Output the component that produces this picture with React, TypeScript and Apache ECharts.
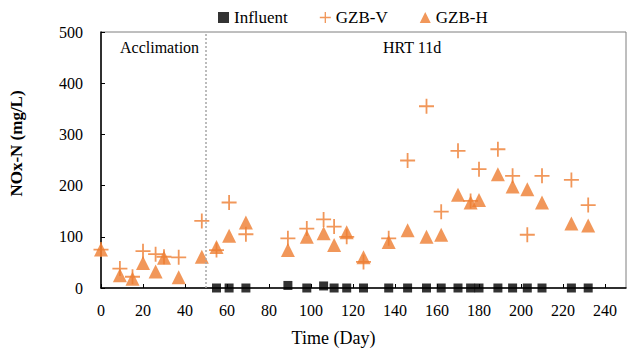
import React, { useEffect, useRef } from "react";
import * as echarts from "echarts";

const days = [0, 9, 15, 20, 26, 30, 37, 48, 55, 61, 69, 89, 98, 106, 111, 117, 125, 137, 146, 155, 162, 170, 176, 180, 189, 196, 203, 210, 224, 232];
const gzbV = [75, 38, 22, 72, 66, 61, 60, 131, 74, 167, 105, 97, 116, 134, 120, 100, 51, 97, 249, 355, 149, 268, 170, 232, 271, 219, 104, 219, 211, 162];
const gzbH = [75, 25, 18, 49, 32, 59, 21, 61, 80, 102, 128, 74, 100, 107, 84, 109, 60, 90, 113, 100, 104, 182, 167, 172, 222, 198, 193, 167, 126, 122];
const influentDays = [55, 61, 69, 89, 98, 106, 111, 117, 125, 137, 146, 155, 162, 170, 176, 180, 189, 196, 203, 210, 224, 232];
const influent = [0, 0, 0, 5, 0, 4, 0, 0, 0, 0, 0, 0, 0, 0, 0, 0, 0, 0, 0, 0, 0, 0];
const phaseBoundary = 50;
const phaseLabels = ["Acclimation", "HRT 11d"];

const ORANGE = "#ED7D31";
const FONT = "Liberation Serif";
const PLUS = "path://M4.4,0h1.2v4.4h4.4v1.2h-4.4v4.4h-1.2v-4.4h-4.4v-1.2h4.4z";

export default function App() {
  const ref = useRef<HTMLDivElement>(null);
  useEffect(() => {
    const chart = echarts.init(ref.current!, null, { renderer: "svg" });
    chart.setOption({
      animation: false,
      backgroundColor: "#fff",
      textStyle: { fontFamily: FONT },
      grid: { left: 101, right: 18, top: 32, bottom: 63, show: true, borderColor: "#7f7f7f", borderWidth: 1, outerBoundsMode: "none", containLabel: false },
      legend: {
        top: 4,
        left: 213,
        itemGap: 32,
        itemWidth: 11,
        itemHeight: 11,
        textStyle: { fontFamily: FONT, fontSize: 17, color: "#000" },
        data: [
          { name: "Influent", icon: "rect" },
          { name: "GZB-V", icon: PLUS },
          { name: "GZB-H", icon: "triangle" },
        ],
      },
      xAxis: {
        type: "value",
        min: 0,
        max: 250,
        interval: 20,
        name: "Time (Day)",
        nameLocation: "middle",
        nameGap: 41,
        nameTextStyle: { fontFamily: FONT, fontSize: 18, color: "#000", padding: [0, 60, 0, 0] },
        axisLine: { show: true, lineStyle: { color: "#000", width: 1.5 } },
        axisTick: { show: true, inside: true, length: 4, lineStyle: { color: "#000" } },
        axisLabel: { fontFamily: FONT, fontSize: 16, color: "#000", margin: 14, showMaxLabel: false },
        splitLine: { show: false },
      },
      yAxis: {
        type: "value",
        min: 0,
        max: 500,
        interval: 100,
        name: "NOx-N (mg/L)",
        nameLocation: "middle",
        nameGap: 76,
        nameTextStyle: { fontFamily: FONT, fontSize: 17, fontWeight: "bold", color: "#000", padding: [0, 0, 0, 33] },
        axisLine: { show: true, lineStyle: { color: "#000", width: 1.5 } },
        axisTick: { show: true, inside: true, length: 4, lineStyle: { color: "#000" } },
        axisLabel: { fontFamily: FONT, fontSize: 16, color: "#000", margin: 18 },
        splitLine: { show: false },
      },
      graphic: [
        { type: "text", left: 120, top: 39, style: { text: phaseLabels[0], font: `16px "${FONT}"`, fill: "#000" } },
        { type: "text", left: 383, top: 39, style: { text: phaseLabels[1], font: `16px "${FONT}"`, fill: "#000" } },
      ],
      series: [
        {
          name: "Influent",
          type: "scatter",
          symbol: "rect",
          symbolSize: 9,
          itemStyle: { color: "#000" },
          data: influentDays.map((d, i) => [d, influent[i]]),
          z: 3,
          markLine: {
            silent: true,
            symbol: "none",
            label: { show: false },
            lineStyle: { color: "#a6a6a6", type: [2, 2], width: 1.5 },
            data: [{ xAxis: phaseBoundary }],
          },
        },
        {
          name: "GZB-V",
          type: "scatter",
          symbol: PLUS,
          symbolSize: 15,
          itemStyle: { color: ORANGE },
          data: days.map((d, i) => [d, gzbV[i]]),
          z: 4,
        },
        {
          name: "GZB-H",
          type: "scatter",
          symbol: "triangle",
          symbolSize: 14,
          itemStyle: { color: ORANGE },
          data: days.map((d, i) => [d, gzbH[i]]),
          z: 4,
        },
      ],
    });
    return () => chart.dispose();
  }, []);
  return <div ref={ref} style={{ position: "fixed", left: 0, top: 0, width: 644, height: 351 }} />;
}
